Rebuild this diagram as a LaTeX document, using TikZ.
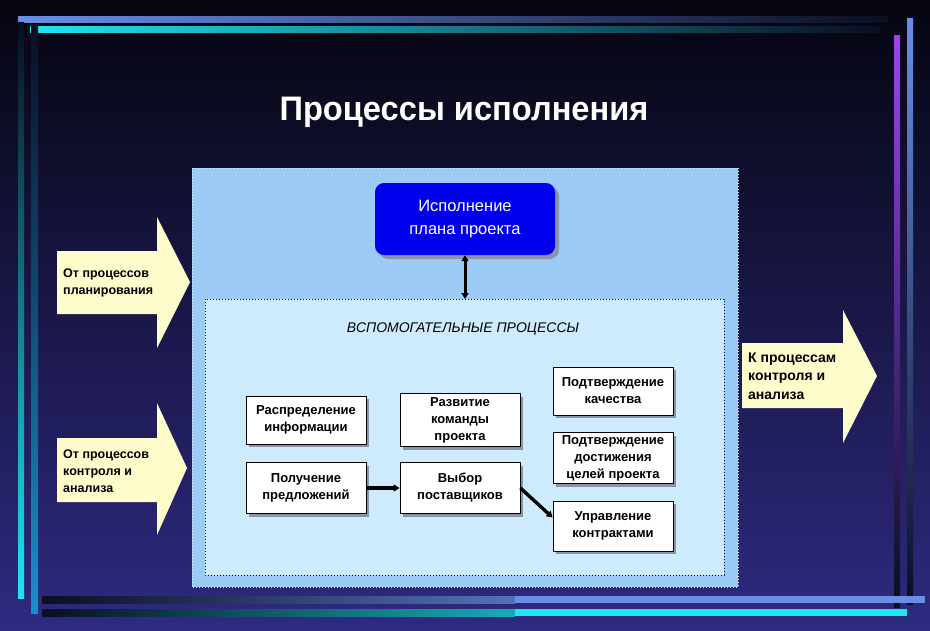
\documentclass[tikz,border=0pt]{standalone}
\usepackage{fontspec}
\setmainfont{Liberation Sans}
\usetikzlibrary{arrows.meta,shadows}

\definecolor{bgtop}{HTML}{050510}
\definecolor{bgmid}{HTML}{1A164E}
\definecolor{bgbot}{HTML}{2E2A80}
\definecolor{bardark}{HTML}{0A0E22}
\definecolor{barblue}{HTML}{6A8EE6}
\definecolor{barcyan}{HTML}{1EE6F2}
\definecolor{barteal}{HTML}{1A8ECC}
\definecolor{barpurple}{HTML}{9A44EE}
\definecolor{panelblue}{HTML}{9CCBF6}
\definecolor{innerblue}{HTML}{CDEBFD}
\definecolor{execblue}{HTML}{0000EE}
\definecolor{arrowyellow}{HTML}{FFFCCB}
\definecolor{shadowgray}{HTML}{8A94A8}

\begin{document}
\begin{tikzpicture}[
						x=1pt, y=-1pt,
						line join=round,
						procbox/.style={draw=black, fill=white, line width=0.8pt, align=center,
							inner sep=0pt, minimum width=120pt,
							font=\bfseries\fontsize{13}{17}\selectfont,
							drop shadow={shadow xshift=3pt, shadow yshift=-3pt, fill=shadowgray, opacity=1}},
						arrowtext/.style={align=left, anchor=west, inner sep=0pt, text=black},
						link/.style={line width=3.4pt, -{Triangle[length=6pt, width=7pt]}},
						every node/.style={font=\small}
						]
						
						\useasboundingbox (0,0) rectangle (930,630);
						
						% Background
						\shade[top color=bgtop, middle color=bgmid, bottom color=bgbot] (0,0) rectangle (930,630);
						
						% Frame bars
						\shade[left color=barblue, right color=bardark] (18,16) rectangle (888,22);
						\shade[left color=barcyan, right color=bardark] (30,26) rectangle (880,32);
						\shade[top color=bardark, bottom color=barcyan] (18,22) rectangle (24,598);
						\shade[top color=bardark, bottom color=barteal] (31,24) rectangle (38,613);
						\shade[top color=barpurple, bottom color=bardark] (894,35) rectangle (900,607);
						\shade[top color=barblue, bottom color=bardark] (907,18) rectangle (913,604);
						\shade[left color=bardark, right color=barblue!80!black] (42,596) rectangle (515,603);
						\fill[barblue] (515,596) rectangle (925,603);
						\shade[left color=bardark, right color=barcyan!75!black] (42,609) rectangle (515,616);
						\fill[barcyan] (515,609) rectangle (907,616);
						
						% Title
						\node[text=white, font=\bfseries\fontsize{34}{40}\selectfont] (title) at (464,112)
							{\scalebox{0.96}[1]{Процессы исполнения}};
						
						% Main panels
						\fill[panelblue] (192,168) rectangle (738,587);
						\draw[white!70!panelblue, line width=1pt, dotted] (192,168) rectangle (738,587);
						\fill[innerblue] (205,299) rectangle (724,575);
						\draw[blue!40!black, line width=1pt, dotted] (205,299) rectangle (724,575);
						
						\node[font=\itshape\fontsize{14}{17}\selectfont] (support) at (463,329) {ВСПОМОГАТЕЛЬНЫЕ ПРОЦЕССЫ};
						
						% Plan execution
						\node[fill=execblue, rounded corners=9pt, minimum width=180pt, minimum height=72pt,
							inner sep=0pt, align=center, text=white, font=\fontsize{16.5}{23}\selectfont,
							drop shadow={shadow xshift=4pt, shadow yshift=-4pt, fill=shadowgray, opacity=1}]
							(exec) at (465,219) {Исполнение\\плана проекта};
						\coordinate (innertop) at (465,299);
						\draw[line width=3pt, {Triangle[length=6pt, width=7pt]}-{Triangle[length=6pt, width=7pt]}] (exec.south) -- (innertop);
						
						% Supporting processes
						\node[procbox, minimum height=48pt] (distr) at (306,420) {Распределение\\информации};
						\node[procbox, minimum height=51pt] (bids) at (306,488) {Получение\\предложений};
						\node[procbox, minimum height=53pt] (team) at (460,420) {Развитие\\команды\\проекта};
						\node[procbox, minimum height=51pt] (select) at (460,488) {Выбор\\поставщиков};
						\node[procbox, minimum height=48pt] (quality) at (613,391) {Подтверждение\\качества};
						\node[procbox, minimum height=51pt] (goals) at (613,458) {Подтверждение\\достижения\\целей проекта};
						\node[procbox, minimum height=50pt] (contracts) at (613,526) {Управление\\контрактами};
						
						\draw[link] (bids) -- (select);
						\draw[link] (select.east) -- (contracts.172);
						
						% Input and output arrows
						\fill[arrowyellow] (57,251) -- (157,251) -- (157,217) -- (190,282) -- (157,348) -- (157,314) -- (57,314) -- cycle;
						\node[arrowtext, font=\bfseries\fontsize{12.5}{17}\selectfont] (fromplan) at (63,283) {От процессов\\планирования};
						
						\fill[arrowyellow] (57,438) -- (157,438) -- (157,403) -- (187,468) -- (157,535) -- (157,502) -- (57,502) -- cycle;
						\node[arrowtext, font=\bfseries\fontsize{12.5}{17}\selectfont] (fromctrl) at (63,471) {От процессов\\контроля и\\анализа};
						
						\fill[arrowyellow] (742,343) -- (843,343) -- (843,310) -- (877,376) -- (843,443) -- (843,408) -- (742,408) -- cycle;
						\node[arrowtext, font=\bfseries\fontsize{14}{18.5}\selectfont] (toctrl) at (748,376) {К процессам\\контроля и\\анализа};
						
					\end{tikzpicture}
\end{document}
